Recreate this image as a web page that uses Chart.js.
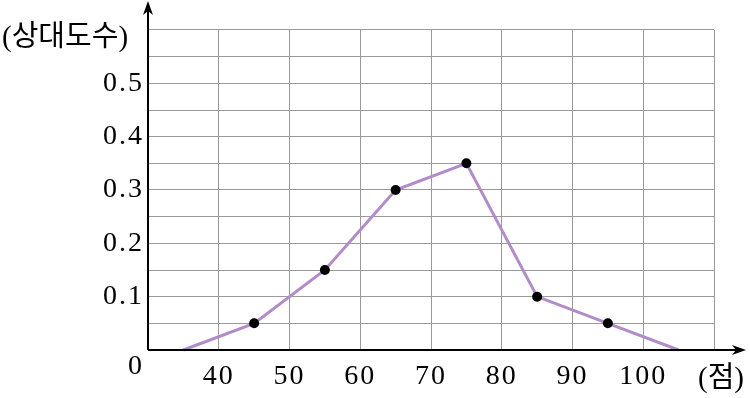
<!DOCTYPE html>
<html>
<head>
<meta charset="utf-8">
<script src="https://cdn.jsdelivr.net/npm/chart.js@4"></script>
<style>
  html, body { margin: 0; padding: 0; background: #fff; }
  #wrap { width: 750px; height: 398px; }
</style>
</head>
<body>
<div id="wrap"><canvas id="freqChart" width="750" height="398"></canvas></div>
<script>
// data
var scores = [35, 45, 55, 65, 75, 85, 95, 105];
var relFreq = [0, 0.05, 0.15, 0.3, 0.35, 0.1, 0.05, 0];
var xTickLabels = [40, 50, 60, 70, 80, 90, 100];
var yTickLabels = [0.1, 0.2, 0.3, 0.4, 0.5];

var $purple = "#b28bc9";
var $grid = "#9a9a9a";
var serif = "'Liberation Serif', 'Noto Sans CJK KR', serif";

// wider digit spacing like the printed figure
var spacingPlugin = {
  id: "digitSpacing",
  beforeDraw: function (chart) {
    chart.ctx.letterSpacing = "2px";
  }
};

// arrows, origin and axis titles
var axesPlugin = {
  id: "axesArrows",
  afterDraw: function (chart) {
    var ctx = chart.ctx;
    var a = chart.chartArea;
    ctx.save();
    ctx.strokeStyle = "#000";
    ctx.fillStyle = "#000";
    ctx.lineWidth = 2;
    ctx.beginPath();
    ctx.moveTo(a.left, a.bottom);
    ctx.lineTo(a.left, 8);
    ctx.moveTo(a.left, a.bottom);
    ctx.lineTo(738, a.bottom);
    ctx.stroke();
    // y arrow
    ctx.beginPath();
    ctx.moveTo(a.left, 1);
    ctx.lineTo(a.left - 5, 15);
    ctx.lineTo(a.left, 11);
    ctx.lineTo(a.left + 5, 15);
    ctx.closePath();
    ctx.fill();
    // x arrow
    ctx.beginPath();
    ctx.moveTo(746, a.bottom);
    ctx.lineTo(732, a.bottom - 5);
    ctx.lineTo(736, a.bottom);
    ctx.lineTo(732, a.bottom + 5);
    ctx.closePath();
    ctx.fill();

    ctx.letterSpacing = "0px";
    ctx.font = "28px " + serif;
    ctx.textBaseline = "middle";
    ctx.textAlign = "center";
    ctx.fillText("0", 135, 367);
    ctx.textAlign = "left";
    ctx.font = "29px " + serif;
    ctx.fillText("(상대도수)", 2, 38);
    ctx.fillText("(점)", 698, 379);
    ctx.restore();
  }
};

var ctx = document.getElementById("freqChart").getContext("2d");
var myLineChart = new Chart(ctx, {
  type: "line",
  data: {
    datasets: [
      {
        data: scores.map(function (s, i) { return { x: s, y: relFreq[i] }; }),
        borderColor: $purple,
        borderWidth: 3,
        backgroundColor: "#000",
        pointBackgroundColor: "#000",
        pointBorderWidth: 0,
        pointRadius: relFreq.map(function (v, i) { return (i === 0 || i === relFreq.length - 1) ? 0 : 5; }),
        tension: 0,
        clip: false
      }
    ]
  },
  options: {
    responsive: false,
    animation: false,
    layout: { padding: { top: 30, right: 36, left: 0, bottom: 0 } },
    plugins: {
      legend: { display: false },
      tooltip: { enabled: false }
    },
    scales: {
      x: {
        type: "linear",
        min: 30,
        max: 110,
        afterFit: function (scale) { scale.height = 48; },
        afterBuildTicks: function (scale) {
          var t = [];
          for (var v = 30; v <= 110; v += 10) t.push({ value: v });
          scale.ticks = t;
        },
        grid: { color: $grid, lineWidth: 1, drawTicks: false },
        border: { display: false },
        ticks: {
          autoSkip: false,
          maxRotation: 0,
          padding: 10,
          color: "#000",
          font: { family: serif, size: 28 },
          callback: function (v) { return xTickLabels.indexOf(v) >= 0 ? String(v) : ""; }
        }
      },
      y: {
        type: "linear",
        min: 0,
        max: 0.6,
        afterFit: function (scale) { scale.width = 148; },
        afterBuildTicks: function (scale) {
          var t = [];
          for (var k = 0; k <= 12; k++) t.push({ value: k * 0.05 });
          scale.ticks = t;
        },
        grid: { color: $grid, lineWidth: 1, drawTicks: false },
        border: { display: false },
        ticks: {
          autoSkip: false,
          padding: 4,
          color: "#000",
          font: { family: serif, size: 28 },
          callback: function (v) {
            var r = Math.round(v * 100) / 100;
            return yTickLabels.indexOf(r) >= 0 ? r.toFixed(1) : "";
          }
        }
      }
    }
  },
  plugins: [spacingPlugin, axesPlugin]
});
</script>
</body>
</html>
